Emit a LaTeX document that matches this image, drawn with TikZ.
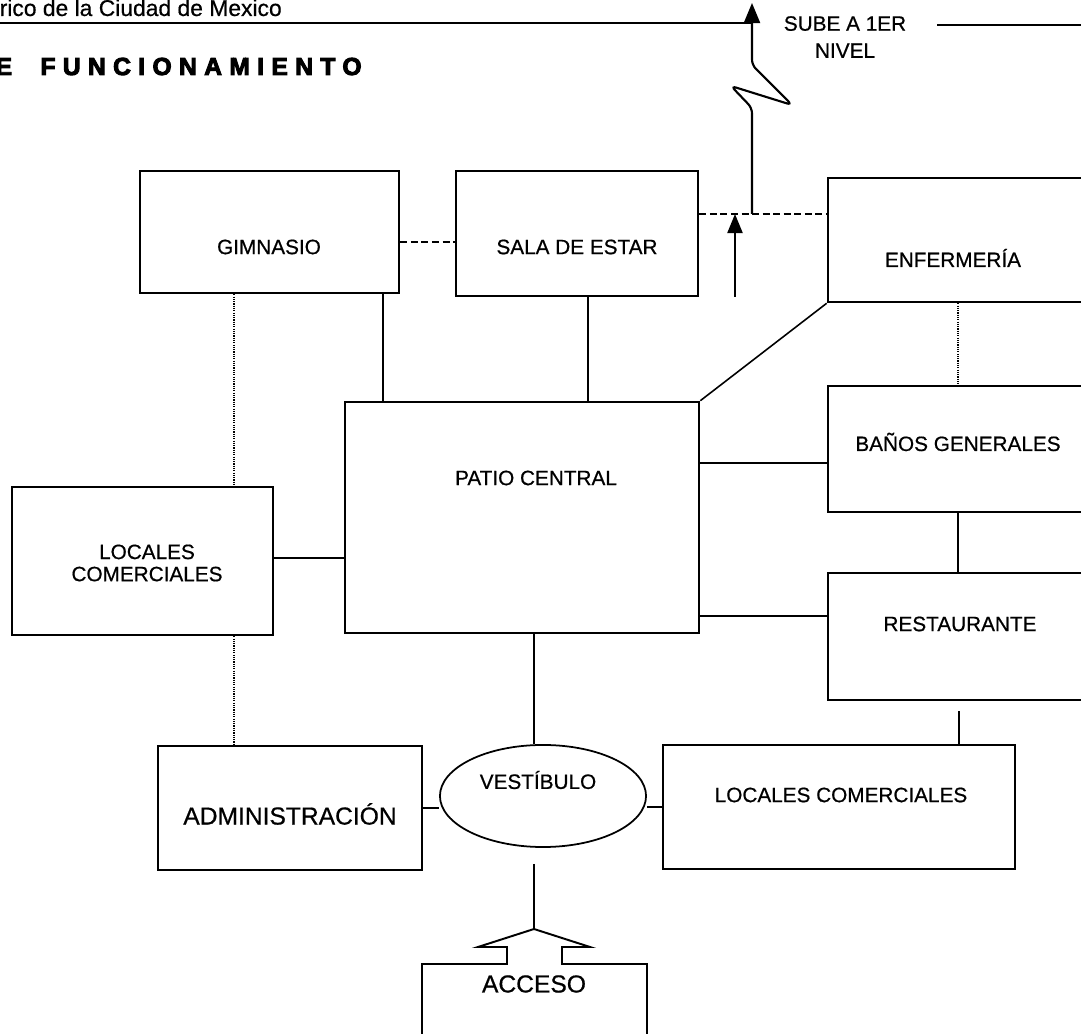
\documentclass[tikz,border=0pt]{standalone}
\usepackage{fontspec}
\setmainfont{Liberation Sans}[FakeBold=0.6]
\newfontfamily\spacedfont[LetterSpace=30,FakeBold=4]{Liberation Sans Bold}
\usetikzlibrary{arrows.meta,shapes.geometric}
\tikzset{
  room/.style={draw, line width=0.7pt, inner sep=0pt},
  roomtext/.style={font=\fontsize{5.9}{6.3}\selectfont, align=center, inner sep=0pt},
  link/.style={line width=0.45pt},
  linkdash/.style={line width=0.55pt, dash pattern=on 2pt off 1pt},
  linkdot/.style={line width=0.45pt, dash pattern=on 0.35pt off 0.3pt},
  uptip/.style={-{Triangle[length=2mm,width=1.6mm]}}
}
\begin{document}
\begin{tikzpicture}[x=0.01cm, y=-0.01cm]
\useasboundingbox (0,0) rectangle (1081,1034);
% heading of the sheet
\node[anchor=base west, inner sep=0pt, font=\fontsize{6.5}{7}\selectfont] (hdr) at (-1,16) {rico de la Ciudad de Mexico};
\node[anchor=base west, inner sep=0pt, font=\fontsize{7}{7}\spacedfont] (title) at (-5,75) {E\hspace{4pt} FUNCIONAMIENTO};
\coordinate (stair) at (752,214);
\coordinate (sube) at (752,3);
\coordinate (upfoot) at (735,297);
\draw[line width=0.7pt] (0,23) -- (sube |- 0,23);
\node[roomtext, font=\fontsize{5.9}{7.7}\selectfont] (subetxt) at (845,37) {SUBE A 1ER\\NIVEL};
\draw[line width=0.7pt] (937,25) -- (1081,25);

% rooms
\node[room, minimum width=2.59cm, minimum height=1.22cm] (gim) at (269.5,232) {};
\node[roomtext] (gimtxt) at (269,247) {GIMNASIO};
\node[room, minimum width=2.42cm, minimum height=1.25cm] (sala) at (577,233.5) {};
\node[roomtext] (salatxt) at (577,247) {SALA DE ESTAR};
\node[room, minimum width=2.72cm, minimum height=1.24cm] (enf) at (964,240) {};
\node[roomtext] (enftxt) at (953,258) {ENFERMERÍA};
\node[room, minimum width=3.54cm, minimum height=2.31cm] (patio) at (522,517.5) {};
\node[roomtext] (patiotxt) at (536,478) {PATIO CENTRAL};
\node[room, minimum width=2.72cm, minimum height=1.26cm] (banos) at (964,449) {};
\node[roomtext] (banostxt) at (958,442) {BAÑOS GENERALES};
\node[room, minimum width=2.72cm, minimum height=1.27cm] (rest) at (964,636.5) {};
\node[roomtext] (resttxt) at (960,624) {RESTAURANTE};
\node[room, minimum width=2.61cm, minimum height=1.48cm] (locl) at (142.5,561) {};
\node[roomtext] (locltxt) at (147,563) {LOCALES\\COMERCIALES};
\node[room, minimum width=2.64cm, minimum height=1.24cm] (adm) at (290,808) {};
\node[roomtext, font=\fontsize{7}{8}\selectfont] (admtxt) at (290,814) {ADMINISTRACIÓN};
\node[room, minimum width=3.52cm, minimum height=1.24cm] (locr) at (839,807) {};
\node[roomtext] (locrtxt) at (841,795) {LOCALES COMERCIALES};
\node[draw, ellipse, line width=0.5pt, minimum width=2.06cm, minimum height=1.02cm, inner sep=0pt] (vest) at (543,796) {};
\node[roomtext] (vesttxt) at (538,780) {VESTÍBULO};

% access arrow
\coordinate (acctip) at (534,929);
\draw[line width=0.55pt] (422,1040) -- (422,964) -- (507,964) -- (507,947) -- (478,947) -- (acctip)
  -- (590,947) -- (562,947) -- (562,964) -- (647,964) -- (647,1040);
\node[roomtext, font=\fontsize{7}{8}\selectfont] (acc) at (534,984) {ACCESO};

% connections
\draw[linkdash] ([yshift=-0.1cm]gim.east) -- ([yshift=-0.1cm]gim.east -| sala.west);
\draw[linkdash] (sala.east |- stair) -- (enf.west |- stair);
\draw[link, line width=0.6pt, rounded corners=1.5pt, uptip] (stair) -- (752,108) -- (731,86) -- (792,105) -- (752,65) -- (sube);
\draw[link, line width=0.6pt, -{Triangle[length=1.9mm,width=1.5mm]}] (upfoot) -- (upfoot |- stair);
\draw[link] (383,0 |- gim.south) -- (383,0 |- patio.north);
\draw[link] (588,0 |- sala.south) -- (588,0 |- patio.north);
\draw[link] (patio.north east) -- (enf.south west);
\draw[linkdot] (958,0 |- enf.south) -- (958,0 |- banos.north);
\draw[link] (patio.east |- 0,463) -- (banos.west |- 0,463);
\draw[link] (958,0 |- banos.south) -- (958,0 |- rest.north);
\draw[link] (patio.east |- 0,616) -- (rest.west |- 0,616);
\draw[link, shorten <=1mm] (959,0 |- rest.south) -- (959,0 |- locr.north);
\draw[linkdot] (234,0 |- gim.south) -- (234,0 |- locl.north);
\draw[linkdot] (234,0 |- locl.south) -- (234,0 |- adm.north);
\draw[link] (locl.east |- 0,558) -- (patio.west |- 0,558);
\draw[link] (534,0 |- patio.south) -- (534,0 |- vest.north);
\draw[link] (adm.east) -- (adm.east -| vest.west);
\draw[link] (locr.west) -- (locr.west -| vest.east);
\draw[link, shorten <=1.6mm] (acctip |- vest.south) -- (acctip);
\end{tikzpicture}
\end{document}
